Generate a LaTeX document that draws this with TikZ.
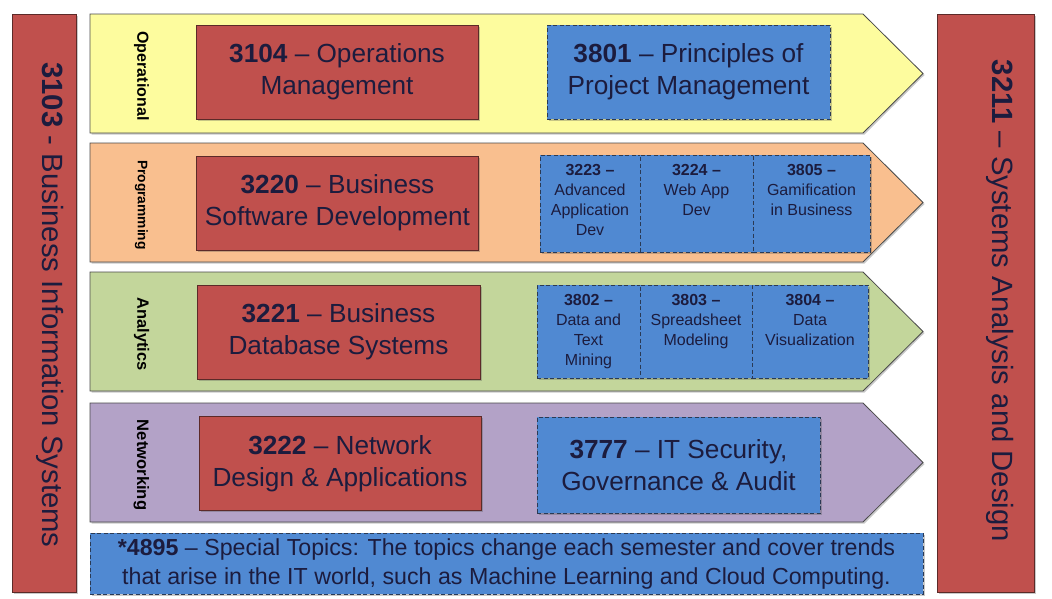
\documentclass[tikz,border=0pt]{standalone}
\usepackage{fontspec}
\setmainfont{Liberation Sans}
\usetikzlibrary{positioning,shadows}
\definecolor{corered}{HTML}{C0504D}
\definecolor{coreline}{HTML}{5C2A28}
\definecolor{electblue}{HTML}{5089D2}
\definecolor{electline}{HTML}{2A3A55}
\definecolor{inktext}{HTML}{1C1C3E}
\definecolor{trackyellow}{HTML}{FDFC9E}
\definecolor{trackorange}{HTML}{F9BF8F}
\definecolor{trackgreen}{HTML}{C3D69B}
\definecolor{trackpurple}{HTML}{B3A2C7}
\definecolor{trackline}{HTML}{4A4A4A}
\tikzset{
  softshadow/.style={drop shadow={shadow xshift=1.5pt, shadow yshift=-1.5pt, opacity=.3, fill=black!70}},
  band/.style={draw=trackline, line width=0.8pt, softshadow},
  tracklabel/.style={rotate=-90, inner sep=0, text=black},
  corebox/.style={draw=coreline, line width=0.8pt, fill=corered, outer sep=0,
    minimum width=282pt, minimum height=94pt, align=center, text=inktext,
    font=\fontsize{26.2}{32}\selectfont, softshadow},
  electbox/.style={corebox, fill=electblue, draw=electline, dash pattern=on 4pt off 2.5pt},
  smallbox/.style={electbox, minimum height=97pt, inner sep=0},
  smalltext/.style={align=center, inner sep=0, text=inktext, font=\fontsize{16}{20}\selectfont},
  sidebar/.style={draw=coreline, line width=0.8pt, fill=corered, minimum height=578pt, softshadow},
  sidetext/.style={rotate=-90, inner sep=0, text=inktext, font=\fontsize{29.3}{34}\selectfont}
}
\begin{document}
\begin{tikzpicture}[x=1pt, y=-1pt]
   \useasboundingbox (0,0) rectangle (1052,598);
   % tracks
   \foreach \y/\col/\name/\size in {14/trackyellow/Operational/16, 143/trackorange/Programming/13.8,
         272/trackgreen/Analytics/16.4, 403/trackpurple/Networking/16.6} {
      \draw[band, fill=\col] (90,\y) -- (863,\y) -- (923,\y+59.5) -- (863,\y+119) -- (90,\y+119) -- cycle;
      \node[tracklabel, font=\bfseries\fontsize{\size}{\size}\selectfont] (\name) at (141.5,\y+62) {\name};
   }

   % side courses
   \node[sidebar, minimum width=64pt] (s3103) at (44,303) {};
   \node[sidetext] (t3103) at (50,305) {\textbf{3103} - Business Information Systems};
   \node[sidebar, minimum width=97pt] (s3211) at (985.5,303) {};
   \node[sidetext] (t3211) at (1000,301) {\textbf{3211} – Systems Analysis and Design};

   % operational
   \node[corebox] (c3104) at (337,72) {\textbf{3104} – Operations\\Management};
   \node[electbox, minimum width=283pt] (e3801) at (688.5,72) {\textbf{3801} – Principles of\\Project Management};

   % programming
   \node[corebox] (c3220) at (337.5,203) {\textbf{3220} – Business\\Software Development};
   \node[smallbox, minimum width=100pt, anchor=north west] (e3223) at (540,155) {};
   \node[smallbox, minimum width=113pt, right=0pt of e3223] (e3224) {};
   \node[smallbox, minimum width=117pt, right=0pt of e3224] (e3805) {};
   \node[smalltext, below=9pt of e3223.north] (t3223) {\textbf{3223 –}\\Advanced\\Application\\Dev};
   \node[smalltext, below=9pt of e3224.north] (t3224) {\textbf{3224 –}\\Web App\\Dev};
   \node[smalltext, below=9pt of e3805.north] (t3805) {\textbf{3805 –}\\Gamification\\in Business};

   % analytics
   \node[corebox, minimum width=283pt] (c3221) at (338.5,332) {\textbf{3221} – Business\\Database Systems};
   \node[smallbox, minimum width=103pt, minimum height=93pt, anchor=north west] (e3802) at (537,285) {};
   \node[smallbox, minimum width=112pt, minimum height=93pt, right=0pt of e3802] (e3803) {};
   \node[smallbox, minimum width=116pt, minimum height=93pt, right=0pt of e3803] (e3804) {};
   \node[smalltext, below=9pt of e3802.north] (t3802) {\textbf{3802 –}\\Data and\\Text\\Mining};
   \node[smalltext, below=9pt of e3803.north] (t3803) {\textbf{3803 –}\\Spreadsheet\\Modeling};
   \node[smalltext, below=9pt of e3804.north] (t3804) {\textbf{3804 –}\\Data\\Visualization};

   % networking
   \node[corebox] (c3222) at (340,463.5) {\textbf{3222} – Network\\Design \& Applications};
   \node[electbox, minimum width=283pt, minimum height=96pt] (e3777) at (678.5,465) {\textbf{3777} – IT Security,\\Governance \& Audit};

   % special topics
   \node[electbox, minimum width=833pt, minimum height=61pt, font=\fontsize{23.2}{29}\selectfont] (e4895) at (506.5,563.5)
      {\textbf{*4895} – Special Topics: The topics change each semester and cover trends\\that arise in the IT world, such as Machine Learning and Cloud Computing.};
\end{tikzpicture}
\end{document}
